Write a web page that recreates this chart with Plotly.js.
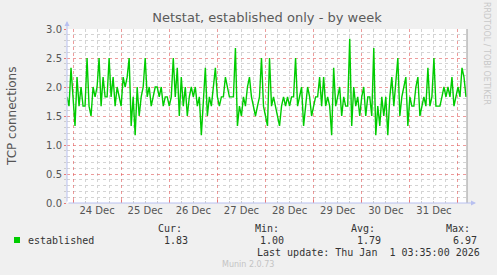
<!DOCTYPE html>
<html>
<head>
<meta charset="utf-8">
<script src="https://cdn.plot.ly/plotly-3.0.1.min.js"></script>
<style>html,body{margin:0;padding:0;background:#F0F0F0;}#chart{width:497px;height:275px;}</style>
</head>
<body>
<div id="chart"></div>
<script>
// Hourly samples starting 2025-12-23 21:00
const startTime = "2025-12-23T21:00:00";
const stepHours = 1;
const established = [
  1.83,1.67,2.33,1.83,1.33,2.17,1.67,2.0,1.67,1.67,
  2.5,1.67,1.5,2.0,1.83,2.0,2.5,1.67,2.17,1.83,
  1.83,2.5,1.83,2.17,1.67,2.0,1.83,1.67,2.17,2.0,
  2.17,2.5,1.33,1.83,1.17,2.0,1.5,1.83,2.0,2.5,
  1.83,2.0,1.67,1.83,2.0,2.0,1.83,2.0,1.67,1.83,
  1.83,1.67,1.83,2.5,1.83,2.33,1.5,2.17,1.67,2.0,
  1.5,1.83,2.0,1.83,2.0,1.67,1.83,1.17,1.67,2.33,
  1.5,1.83,1.67,2.0,2.33,1.83,1.67,1.83,1.83,2.17,
  2.0,1.83,1.83,1.83,2.67,1.33,1.67,1.5,1.83,1.67,
  2.0,2.17,1.83,1.67,1.5,1.67,1.83,2.5,1.67,1.5,
  1.33,2.5,1.67,1.83,1.67,1.5,1.33,1.67,1.83,1.67,
  1.83,1.67,1.83,1.83,2.5,1.67,1.83,2.0,1.33,1.67,
  2.0,1.83,1.5,1.67,1.83,1.83,2.17,1.67,2.17,1.67,
  1.83,1.67,1.17,2.33,1.67,1.83,2.0,1.5,1.83,1.67,
  1.67,2.83,1.33,2.0,1.67,1.83,1.5,1.83,2.0,1.5,
  1.83,1.83,1.5,2.67,1.17,1.67,1.33,1.83,1.5,1.83,
  1.17,1.83,2.17,1.67,2.17,2.5,1.5,1.83,2.0,2.17,
  1.33,1.83,1.67,1.67,2.0,2.17,1.5,1.67,1.83,1.67,
  2.33,1.67,1.83,2.5,1.67,1.67,1.67,1.83,2.0,1.83,
  2.0,1.83,2.17,1.67,1.83,2.0,1.83,2.33,2.17,1.83
];
const seriesName = "established";
const statLabels = ["Cur:", "Min:", "Avg:", "Max:"];
const statValues = ["1.83", "1.00", "1.79", "6.97"];
const lastUpdate = "Last update: Thu Jan\u00a0\u00a01 03:35:00 2026";
const xRange = ["2025-12-23 21:00", "2026-01-01 04:30"];

const t0 = new Date(startTime + "Z").getTime();
const times = established.map((_, i) => new Date(t0 + i * stepHours * 3600000).toISOString().replace("Z", ""));

// pixel helpers for annotations (plot area: x 67..467, y 29..203)
const L = 67, R = 467, T = 29, B = 203;
const px = x => (x - L) / (R - L);
const py = y => (B - y) / (B - T);

const mono = {family: "DejaVu Sans Mono", size: 10, color: "#333"};
const statX = [170, 267, 363, 458];
const valX = [176, 272, 369, 465];

const annotations = [];
statLabels.forEach((s, i) => annotations.push({xref: "paper", yref: "paper", x: px(statX[i]), y: py(228.5), text: s, showarrow: false, font: mono, xanchor: "center", yanchor: "middle"}));
statValues.forEach((s, i) => annotations.push({xref: "paper", yref: "paper", x: px(valX[i]), y: py(240), text: s, showarrow: false, font: mono, xanchor: "center", yanchor: "middle"}));
annotations.push({xref: "paper", yref: "paper", x: px(26), y: py(240), text: seriesName, showarrow: false, font: mono, xanchor: "left", yanchor: "middle"});
annotations.push({xref: "paper", yref: "paper", x: px(482), y: py(252), text: lastUpdate, showarrow: false, font: mono, xanchor: "right", yanchor: "middle"});
annotations.push({xref: "paper", yref: "paper", x: px(248), y: py(264.5), text: "Munin 2.0.73", showarrow: false, font: {family: "DejaVu Sans", size: 8, color: "#c4c4c4"}, xanchor: "center", yanchor: "middle"});
annotations.push({xref: "paper", yref: "paper", x: px(487), y: py(53), text: "RRDTOOL / TOBI OETIKER", showarrow: false, textangle: 90, font: {family: "DejaVu Sans", size: 8, color: "#c8c8c8"}, xanchor: "center", yanchor: "middle"});
annotations.push({xref: "paper", yref: "paper", x: px(12), y: py(116), text: "TCP connections", showarrow: false, textangle: -90, font: {family: "DejaVu Sans", size: 12, color: "#555"}, xanchor: "center", yanchor: "middle"});
// axis arrows
annotations.push({xref: "paper", yref: "paper", x: px(67), y: py(21), ax: 0, ay: 182, text: "", showarrow: true, arrowhead: 2, arrowsize: 1, arrowwidth: 1, arrowcolor: "#b8c0f0"});
annotations.push({xref: "paper", yref: "paper", x: px(476), y: py(203), ax: -409, ay: 0, text: "", showarrow: true, arrowhead: 2, arrowsize: 1, arrowwidth: 1, arrowcolor: "#b8c0f0"});

const shapes = [
  {type: "rect", xref: "paper", yref: "paper", x0: px(14), x1: px(20), y0: py(243), y1: py(237), fillcolor: "#00CC00", line: {width: 0}},
  {type: "line", xref: "paper", yref: "paper", x0: 1, x1: 1, y0: 0, y1: 1, line: {color: "#999", width: 1}}
];

const trace = {x: times, y: established, type: "scatter", mode: "lines", line: {color: "#00CC00", width: 1.4}, hoverinfo: "skip", showlegend: false};

const redGrid = "rgba(225,90,90,0.6)";
const layout = {
  width: 497, height: 275,
  margin: {l: L, r: 497 - R, t: T, b: 275 - B, pad: 0},
  paper_bgcolor: "#F0F0F0",
  plot_bgcolor: "#FFFFFF",
  title: {text: "Netstat, established only - by week", x: 0.5, xref: "paper", y: 1 - 17 / 275, yanchor: "middle", font: {family: "DejaVu Sans", size: 13, color: "#5a5a5a"}},
  font: {family: "DejaVu Sans", size: 10, color: "#555"},
  xaxis: {
    type: "date", range: xRange, tick0: "2025-12-24", dtick: 86400000, ticklabelmode: "period",
    tickformat: "%d %b", showgrid: true, gridcolor: redGrid, griddash: "dot", gridwidth: 1,
    ticks: "inside", ticklen: 3, tickcolor: "#e87878", zeroline: false, showline: false,
    tickfont: {family: "DejaVu Sans", size: 10, color: "#555"},
    minor: {dtick: 6 * 3600000, tick0: "2025-12-24", showgrid: true, gridcolor: "#d4d4d4", griddash: "dot", ticks: "inside", ticklen: 2, tickcolor: "#ccc"}
  },
  yaxis: {
    range: [0, 3], dtick: 0.5, tickformat: ".1f", showgrid: true, gridcolor: redGrid, griddash: "dot",
    ticks: "outside", ticklen: 2, tickcolor: "#e87878", zeroline: false, showline: false,
    tickfont: {family: "DejaVu Sans", size: 10, color: "#555"},
    minor: {dtick: 0.1, showgrid: true, gridcolor: "#d4d4d4", griddash: "dot", ticks: "outside", ticklen: 2, tickcolor: "#ccc"}
  },
  annotations: annotations,
  shapes: shapes
};

Plotly.newPlot("chart", [trace], layout, {staticPlot: true, displayModeBar: false});
</script>
</body>
</html>
